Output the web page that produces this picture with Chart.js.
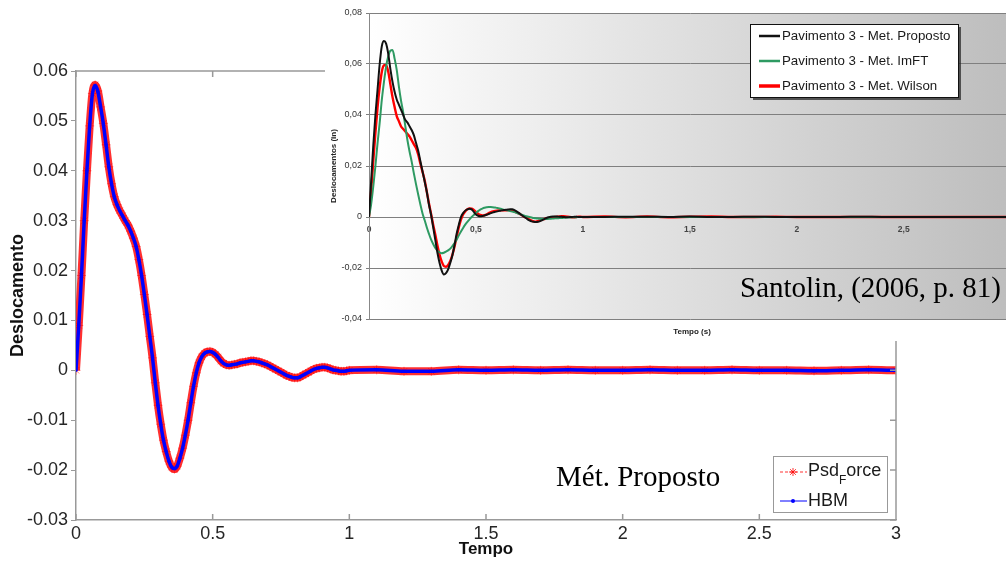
<!DOCTYPE html>
<html lang="pt">
<head>
<meta charset="utf-8">
<title>Deslocamento x Tempo</title>
<script src="https://cdn.jsdelivr.net/npm/chart.js@4.4.1/dist/chart.umd.min.js"></script>
<style>
  html, body { margin: 0; padding: 0; background: #fff; overflow: hidden; }
  #wrap { position: relative; width: 1006px; height: 562px; overflow: hidden; }
  #mainChart { position: absolute; left: 0; top: 0; }
  #insetChart { position: absolute; left: 325px; top: 0; }
</style>
</head>
<body>
<div id="wrap">
  <canvas id="mainChart" width="1006" height="562"></canvas>
  <canvas id="insetChart" width="696" height="341"></canvas>
</div>
<script>
// time samples (s), shared by both charts
const tempo = [
  0.00, 0.01, 0.02, 0.03, 0.04, 0.05, 0.06, 0.07, 0.08, 0.09,
  0.10, 0.11, 0.12, 0.13, 0.14, 0.15, 0.16, 0.17, 0.18, 0.19,
  0.20, 0.21, 0.22, 0.23, 0.24, 0.25, 0.26, 0.27, 0.28, 0.29,
  0.30, 0.31, 0.32, 0.33, 0.34, 0.35, 0.36, 0.37, 0.38, 0.39,
  0.40, 0.41, 0.42, 0.43, 0.44, 0.45, 0.46, 0.47, 0.48, 0.49,
  0.50, 0.51, 0.52, 0.53, 0.54, 0.55, 0.56, 0.57, 0.58, 0.59,
  0.60, 0.61, 0.62, 0.63, 0.64, 0.65, 0.66, 0.67, 0.68, 0.69,
  0.70, 0.71, 0.72, 0.73, 0.74, 0.75, 0.76, 0.77, 0.78, 0.79,
  0.80, 0.81, 0.82, 0.83, 0.84, 0.85, 0.86, 0.87, 0.88, 0.89,
  0.90, 0.91, 0.92, 0.93, 0.94, 0.95, 0.96, 0.97, 0.98, 0.99,
  1.00,
  1.1, 1.2, 1.3, 1.4, 1.5, 1.6, 1.7, 1.8, 1.9, 2.0,
  2.1, 2.2, 2.3, 2.4, 2.5, 2.6, 2.7, 2.8, 2.9, 3.0
];

// main chart (Mét. Proposto)
const psdForce = [
  0, 0.009, 0.019, 0.030, 0.040, 0.049, 0.0555, 0.0572, 0.0560, 0.0528,
  0.0495, 0.0452, 0.0408, 0.0374, 0.0348, 0.0332, 0.0320, 0.0310, 0.0300, 0.0291,
  0.0279, 0.0265, 0.0248, 0.0222, 0.0190, 0.0152, 0.0112, 0.0068, 0.0025, -0.0025,
  -0.0070, -0.0108, -0.0140, -0.0163, -0.0182, -0.0194, -0.0198, -0.0192, -0.0176, -0.0156,
  -0.0130, -0.0100, -0.0065, -0.0032, -0.0005, 0.0015, 0.0027, 0.0034, 0.0037, 0.0038,
  0.0036, 0.0032, 0.0026, 0.0019, 0.0014, 0.0011, 0.0010, 0.0011, 0.0012, 0.0013,
  0.0015, 0.0016, 0.0017, 0.0018, 0.0019, 0.0019, 0.0018, 0.0017, 0.0015, 0.0013,
  0.0011, 0.0008, 0.0005, 0.0002, -0.0001, -0.0004, -0.0007, -0.0010, -0.0012, -0.0014,
  -0.0015, -0.0015, -0.0013, -0.0010, -0.0007, -0.0004, -0.0001, 0.0002, 0.0004, 0.0005,
  0.0006, 0.0006, 0.0005, 0.0003, 0.0001, 0.0000, -0.0001, -0.0002, -0.0002, -0.0001,
  0.0000,
  0.0001, -0.0002, -0.0002, 0.0001, 0.0000, 0.0001, 0.0000, 0.0001, 0.0000, 0.0000,
  0.0001, 0.0000, 0.0000, 0.0001, 0.0000, 0.0000, -0.0001, 0.0000, 0.0001, 0.0000
];
const hbm = [
  0, 0.009, 0.019, 0.030, 0.040, 0.049, 0.0554, 0.0571, 0.0559, 0.0528,
  0.0494, 0.0452, 0.0408, 0.0374, 0.0348, 0.0332, 0.0320, 0.0310, 0.0300, 0.0291,
  0.0279, 0.0265, 0.0248, 0.0222, 0.0190, 0.0152, 0.0112, 0.0068, 0.0025, -0.0025,
  -0.0070, -0.0108, -0.0140, -0.0163, -0.0182, -0.0194, -0.0197, -0.0192, -0.0176, -0.0156,
  -0.0130, -0.0100, -0.0065, -0.0032, -0.0005, 0.0015, 0.0027, 0.0034, 0.0037, 0.0038,
  0.0036, 0.0032, 0.0026, 0.0019, 0.0014, 0.0011, 0.0010, 0.0011, 0.0012, 0.0013,
  0.0015, 0.0016, 0.0017, 0.0018, 0.0019, 0.0019, 0.0018, 0.0017, 0.0015, 0.0013,
  0.0011, 0.0008, 0.0005, 0.0002, -0.0001, -0.0004, -0.0007, -0.0010, -0.0012, -0.0014,
  -0.0015, -0.0015, -0.0013, -0.0010, -0.0007, -0.0004, -0.0001, 0.0002, 0.0004, 0.0005,
  0.0006, 0.0006, 0.0005, 0.0003, 0.0001, 0.0000, -0.0001, -0.0002, -0.0002, -0.0001,
  0.0000,
  0.0001, -0.0002, -0.0002, 0.0001, 0.0000, 0.0001, 0.0000, 0.0001, 0.0000, 0.0000,
  0.0001, 0.0000, 0.0000, 0.0001, 0.0000, 0.0000, -0.0001, 0.0000, 0.0001, 0.0000
];

// inset (Santolin, 2006)
const proposto = [
  0, 0.014, 0.028, 0.040, 0.050, 0.060, 0.067, 0.069, 0.068, 0.064,
  0.058, 0.053, 0.049, 0.046, 0.044, 0.042, 0.040, 0.038, 0.037, 0.0355,
  0.034, 0.032, 0.029, 0.026, 0.022, 0.018, 0.014, 0.010, 0.005, 0.001,
  -0.004, -0.009, -0.014, -0.018, -0.021, -0.0225, -0.022, -0.0205, -0.018, -0.015,
  -0.011, -0.0065, -0.003, 0.000, 0.0015, 0.0025, 0.003, 0.0032, 0.003, 0.002,
  0.001, 0.0005, 0.0003, 0.0004, 0.0006, 0.0009, 0.0012, 0.0015, 0.0018, 0.002,
  0.0022, 0.0024, 0.0026, 0.0027, 0.0028, 0.0029, 0.003, 0.003, 0.0027, 0.0022,
  0.0016, 0.001, 0.0004, -0.0002, -0.0008, -0.0013, -0.0017, -0.0019, -0.002, -0.0019,
  -0.0016, -0.0012, -0.0008, -0.0004, -0.0001, 0.0001, 0.0002, 0.0002, 0.0002, 0.0001,
  0.0001, 0, -0.0001, -0.0001, 0, 0, 0.0001, 0.0001, 0, 0,
  0,
  0, 0.0001, 0.0001, 0, 0.0002, 0, 0, 0.0001, 0, 0,
  0, 0, 0.0001, 0, 0, 0, 0, 0, 0, 0
];
const imft = [
  0, 0.005, 0.012, 0.020, 0.029, 0.037, 0.046, 0.053, 0.059, 0.063,
  0.0652, 0.0655, 0.062, 0.0575, 0.051, 0.0455, 0.041, 0.0355, 0.030, 0.0255,
  0.0215, 0.017, 0.0128, 0.0088, 0.005, 0.0015, -0.0012, -0.004, -0.0065, -0.0088,
  -0.0106, -0.0121, -0.0132, -0.0139, -0.0142, -0.014, -0.0136, -0.0131, -0.0124, -0.0114,
  -0.0102, -0.0088, -0.0072, -0.0057, -0.0043, -0.003, -0.0019, -0.0009, 0.0000, 0.0008,
  0.0016, 0.0023, 0.0029, 0.0033, 0.0036, 0.0038, 0.0039, 0.0039, 0.0038, 0.0037,
  0.0035, 0.0033, 0.0031, 0.0029, 0.0027, 0.0025, 0.0023, 0.0021, 0.0019, 0.0016,
  0.0013, 0.0010, 0.0007, 0.0004, 0.0002, 0, -0.0002, -0.0004, -0.0005, -0.0006,
  -0.0007, -0.0008, -0.0008, -0.0008, -0.0007, -0.0007, -0.0006, -0.0005, -0.0005, -0.0004,
  -0.0004, -0.0003, -0.0003, -0.0002, -0.0002, -0.0001, -0.0001, -0.0001, 0, 0,
  0,
  0, 0, 0, 0, 0, 0, 0, 0, 0, 0,
  0, 0, 0, 0, 0, 0, 0, 0, 0, 0
];
const wilson = [
  0, 0.010, 0.022, 0.033, 0.043, 0.051, 0.057, 0.0595, 0.0595, 0.057,
  0.052, 0.047, 0.043, 0.0395, 0.0375, 0.0355, 0.0345, 0.0335, 0.0325, 0.0315,
  0.030, 0.0285, 0.027, 0.0245, 0.021, 0.0178, 0.0145, 0.010, 0.0055, 0.0013,
  -0.003, -0.007, -0.0112, -0.0148, -0.0175, -0.0192, -0.0195, -0.0188, -0.0172, -0.0148,
  -0.0115, -0.0078, -0.004, -0.001, 0.001, 0.0022, 0.003, 0.0034, 0.0033, 0.0028,
  0.002, 0.0013, 0.0008, 0.0006, 0.0007, 0.001, 0.0015, 0.0019, 0.0022, 0.0024,
  0.0025, 0.0026, 0.0026, 0.0026, 0.0026, 0.0027, 0.0027, 0.0025, 0.0022, 0.0018,
  0.0014, 0.0009, 0.0004, -0.0001, -0.0005, -0.001, -0.0014, -0.0017, -0.0018, -0.0016,
  -0.0013, -0.001, -0.0008, -0.0006, -0.0004, -0.0002, -0.0001, 0, 0.0001, 0.0002,
  0.0003, 0.0003, 0.0002, 0.0001, 0, -0.0001, -0.0001, 0, 0.0001, 0.0001,
  0,
  0.0002, -0.0001, 0.0002, -0.0001, 0.0001, 0.0002, 0, 0, 0.0001, 0,
  0, 0, 0, 0, 0, 0, 0, 0, 0, 0
];

Chart.defaults.font.family = '"Liberation Sans", Arial, sans-serif';

const toXY = vals => tempo.map((t, i) => ({ x: t, y: vals[i] }));
const SERIF = '"Liberation Serif", "Times New Roman", serif';

// white page + box, inside ticks, legend and caption of the main chart
const mainDecor = {
    id: 'mainDecor',
    beforeDraw(chart) {
        const ctx = chart.ctx;
        ctx.save();
        ctx.fillStyle = '#fff';
        ctx.fillRect(0, 0, chart.width, chart.height);
        ctx.restore();
    },
    afterDraw(chart) {
        const { ctx, chartArea: a, scales } = chart;
        ctx.save();
        ctx.strokeStyle = '#999';
        ctx.lineWidth = 1.5;
        ctx.beginPath();
        ctx.moveTo(a.left, a.top); ctx.lineTo(a.right, a.top);
        ctx.moveTo(a.right, a.top); ctx.lineTo(a.right, a.bottom);
        scales.x.ticks.forEach(t => {
            const px = scales.x.getPixelForValue(t.value);
            ctx.moveTo(px, a.bottom); ctx.lineTo(px, a.bottom - 6);
            ctx.moveTo(px, a.top); ctx.lineTo(px, a.top + 6);
        });
        scales.y.ticks.forEach(t => {
            const py = scales.y.getPixelForValue(t.value);
            ctx.moveTo(a.right, py); ctx.lineTo(a.right - 6, py);
        });
        ctx.stroke();

        // legend
        const bx = 773, by = 456, bw = 114, bh = 56;
        ctx.fillStyle = '#fff';
        ctx.fillRect(bx, by, bw, bh);
        ctx.strokeStyle = '#999';
        ctx.lineWidth = 1;
        ctx.strokeRect(bx + 0.5, by + 0.5, bw, bh);

        const ds = chart.data.datasets;
        // Psd_Force entry
        ctx.strokeStyle = 'rgba(255,0,0,0.8)';
        ctx.setLineDash([3, 2]);
        ctx.beginPath(); ctx.moveTo(780, 472); ctx.lineTo(807, 472); ctx.stroke();
        ctx.setLineDash([]);
        ctx.beginPath();
        for (let k = 0; k < 4; k++) {
            const ang = k * Math.PI / 4;
            ctx.moveTo(793 - 4 * Math.cos(ang), 472 - 4 * Math.sin(ang));
            ctx.lineTo(793 + 4 * Math.cos(ang), 472 + 4 * Math.sin(ang));
        }
        ctx.stroke();
        // HBM entry
        ctx.strokeStyle = '#0000ff';
        ctx.beginPath(); ctx.moveTo(780, 501); ctx.lineTo(807, 501); ctx.stroke();
        ctx.fillStyle = '#0000ff';
        ctx.beginPath(); ctx.arc(793, 501, 2, 0, Math.PI * 2); ctx.fill();

        ctx.fillStyle = '#1a1a1a';
        ctx.textBaseline = 'middle';
        ctx.font = '18px "Liberation Sans", Arial, sans-serif';
        const parts = ds[0].label.split('_');
        let x = 808;
        ctx.fillText(parts[0], x, 471);
        x += ctx.measureText(parts[0]).width;
        ctx.font = '12px "Liberation Sans", Arial, sans-serif';
        ctx.fillText(parts[1].charAt(0), x, 481);
        x += ctx.measureText(parts[1].charAt(0)).width;
        ctx.font = '18px "Liberation Sans", Arial, sans-serif';
        ctx.fillText(parts[1].slice(1), x, 471);
        ctx.fillText(ds[1].label, 808, 501);

        ctx.textBaseline = 'alphabetic';
        ctx.fillStyle = '#000';
        ctx.font = '29px ' + SERIF;
        ctx.fillText('Mét. Proposto', 556, 486);
        ctx.restore();
    }
};

new Chart(document.getElementById('mainChart'), {
    type: 'line',
    data: {
        datasets: [{
            label: 'Psd_Force',
            data: toXY(psdForce),
            order: 2,
            borderColor: 'rgba(255,25,25,0.9)',
            borderWidth: 8,
            pointStyle: 'star',
            pointRadius: 4.5,
            pointBorderColor: 'rgba(255,0,0,0.5)',
            pointBorderWidth: 1,
            pointBackgroundColor: 'rgba(255,0,0,0)',
            cubicInterpolationMode: 'monotone'
        }, {
            label: 'HBM',
            data: toXY(hbm),
            order: 1,
            borderColor: '#0000ff',
            borderWidth: 3.5,
            pointStyle: 'circle',
            pointRadius: 1.6,
            pointBorderWidth: 0,
            pointBackgroundColor: '#0000ff',
            cubicInterpolationMode: 'monotone'
        }]
    },
    options: {
        responsive: false,
        animation: false,
        layout: { padding: { top: 71, right: 110, left: 0, bottom: 0 } },
        plugins: { legend: { display: false }, tooltip: { enabled: false } },
        scales: {
            x: {
                type: 'linear', min: 0, max: 3,
                afterFit: s => { s.height = 42; },
                grid: { display: false, drawTicks: false },
                border: { color: '#999', width: 1.5 },
                ticks: {
                    stepSize: 0.5, padding: 3, maxRotation: 0,
                    font: { size: 18 }, color: '#262626',
                    callback: v => String(Math.round(v * 10) / 10)
                },
                title: {
                    display: true, text: 'Tempo', color: '#111',
                    font: { size: 17, weight: 'bold' }, padding: { top: 0, bottom: 2 }
                }
            },
            y: {
                min: -0.03, max: 0.06,
                afterFit: s => { s.width = 76; },
                grid: { drawOnChartArea: false, tickLength: 5, color: '#999' },
                border: { color: '#999', width: 1.5 },
                ticks: {
                    stepSize: 0.01, padding: 3,
                    font: { size: 18 }, color: '#262626',
                    callback: v => Math.abs(v) < 1e-9 ? '0' : v.toFixed(2)
                },
                title: {
                    display: true, text: 'Deslocamento', color: '#111',
                    font: { size: 18, weight: 'bold' }, padding: { top: 7 }
                }
            }
        }
    },
    plugins: [mainDecor]
});

// white card with gradient plot area
const insetBg = {
    id: 'insetBg',
    beforeDraw(chart) {
        const { ctx, chartArea: a } = chart;
        ctx.save();
        ctx.fillStyle = '#fff';
        ctx.fillRect(0, 0, chart.width, chart.height);
        const g = ctx.createLinearGradient(a.left, 0, a.right, 0);
        g.addColorStop(0, '#ffffff');
        g.addColorStop(1, '#bdbdbd');
        ctx.fillStyle = g;
        ctx.fillRect(a.left, a.top, a.right - a.left, a.bottom - a.top);
        ctx.restore();
    }
};

// legend box with shadow, x title and source caption
const insetDecor = {
    id: 'insetDecor',
    afterDraw(chart) {
        const ctx = chart.ctx;
        ctx.save();
        const bx = 425, by = 24, bw = 208, bh = 73;
        ctx.fillStyle = 'rgba(40,40,40,0.75)';
        ctx.fillRect(bx + 3, by + 3, bw, bh);
        ctx.fillStyle = '#fff';
        ctx.fillRect(bx, by, bw, bh);
        ctx.strokeStyle = '#111';
        ctx.lineWidth = 1;
        ctx.strokeRect(bx + 0.5, by + 0.5, bw, bh);

        ctx.font = '13.3px "Liberation Sans", Arial, sans-serif';
        ctx.textBaseline = 'middle';
        chart.data.datasets.forEach((d, i) => {
            const y = 36 + i * 25;
            ctx.strokeStyle = d.borderColor;
            ctx.lineWidth = i === 2 ? 3.5 : 2.5;
            ctx.beginPath(); ctx.moveTo(434, y); ctx.lineTo(455, y); ctx.stroke();
            ctx.fillStyle = '#1a1a1a';
            ctx.fillText(d.label, 457, y);
        });

        ctx.font = 'bold 8px "Liberation Sans", Arial, sans-serif';
        ctx.fillStyle = '#222';
        ctx.textAlign = 'center';
        ctx.fillText('Tempo (s)', 367, 332);

        ctx.textAlign = 'left';
        ctx.textBaseline = 'alphabetic';
        ctx.fillStyle = '#000';
        ctx.font = '29px ' + SERIF;
        ctx.fillText('Santolin, (2006, p. 81)', 415, 297);
        ctx.restore();
    }
};

const commaFmt = v => Math.abs(v) < 1e-9 ? '0' : String(Math.round(v * 100) / 100).replace('.', ',');

new Chart(document.getElementById('insetChart'), {
    type: 'line',
    data: {
        datasets: [{
            label: 'Pavimento 3 - Met. Proposto',
            data: toXY(proposto),
            borderColor: '#111111',
            borderWidth: 2,
            pointRadius: 0,
            cubicInterpolationMode: 'monotone'
        }, {
            label: 'Pavimento 3 - Met. ImFT',
            data: toXY(imft),
            borderColor: '#2e9a62',
            borderWidth: 2,
            pointRadius: 0,
            cubicInterpolationMode: 'monotone'
        }, {
            label: 'Pavimento 3 - Met. Wilson',
            data: toXY(wilson),
            borderColor: '#ff0000',
            borderWidth: 2.4,
            pointRadius: 0,
            cubicInterpolationMode: 'monotone'
        }]
    },
    options: {
        responsive: false,
        animation: false,
        layout: { padding: { top: 13, right: 7, bottom: 22, left: 0 } },
        plugins: { legend: { display: false }, tooltip: { enabled: false } },
        scales: {
            x: {
                type: 'linear', min: 0, max: 3,
                position: { y: 0 },
                grid: { display: false, drawTicks: false },
                border: { display: false },
                ticks: {
                    stepSize: 0.5, padding: 8, maxRotation: 0,
                    font: { size: 8.5, weight: 'bold' }, color: '#444',
                    callback: v => commaFmt(v)
                }
            },
            y: {
                min: -0.04, max: 0.08,
                afterFit: s => { s.width = 44; },
                grid: { color: '#7f7f7f', tickLength: 3 },
                border: { color: '#888' },
                ticks: {
                    stepSize: 0.02, padding: 4,
                    font: { size: 9 }, color: '#333',
                    callback: v => Math.abs(v) < 1e-9 ? '0' : v.toFixed(2).replace('.', ',')
                },
                title: {
                    display: true, text: 'Deslocamentos (in)', color: '#222',
                    font: { size: 8, weight: 'bold' }, padding: { top: 4 }
                }
            }
        }
    },
    plugins: [insetBg, insetDecor]
});
</script>
</body>
</html>
